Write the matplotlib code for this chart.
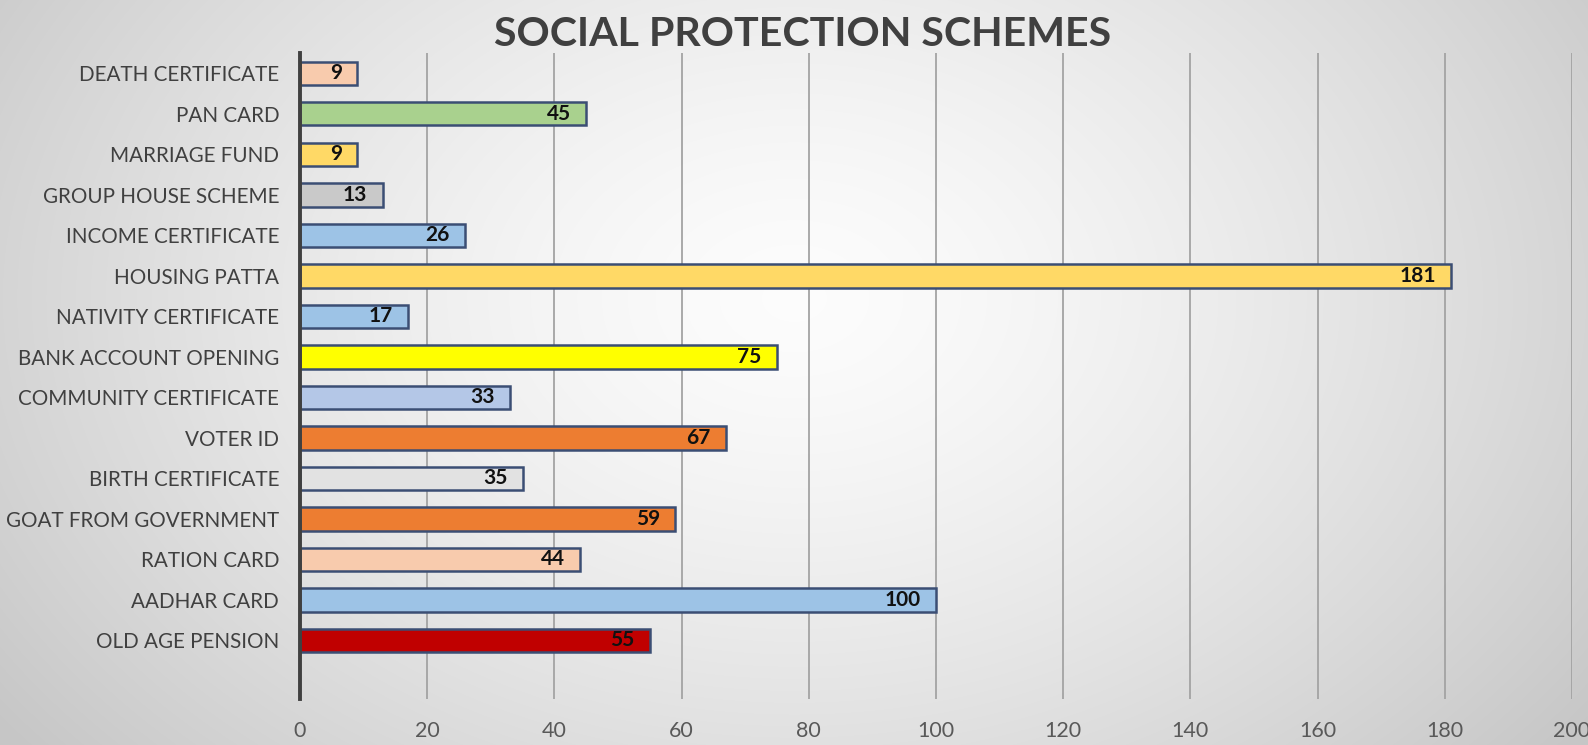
import numpy as np
import matplotlib
matplotlib.use("Agg")
import matplotlib.pyplot as plt

categories = ["OLD AGE PENSION", "AADHAR CARD", "RATION CARD", "GOAT FROM GOVERNMENT",
              "BIRTH CERTIFICATE", "VOTER ID", "COMMUNITY CERTIFICATE", "BANK ACCOUNT OPENING",
              "NATIVITY CERTIFICATE", "HOUSING PATTA", "INCOME CERTIFICATE", "GROUP HOUSE SCHEME",
              "MARRIAGE FUND", "PAN CARD", "DEATH CERTIFICATE"]
values = [55, 100, 44, 59, 35, 67, 33, 75, 17, 181, 26, 13, 9, 45, 9]
colors = ["#C00000", "#9DC3E6", "#F8CBAD", "#ED7D31", "#E2E2E2", "#ED7D31", "#B4C7E7",
          "#FFFF00", "#9DC3E6", "#FFD966", "#9DC3E6", "#C9C9C9", "#FFD966", "#A9D18E", "#F8CBAD"]
xticks = [0, 20, 40, 60, 80, 100, 120, 140, 160, 180, 200]

plt.rcParams['font.family'] = ['Lato', 'DejaVu Sans']

W, H = 1588, 745
fig = plt.figure(figsize=(W/100, H/100), dpi=100)

# radial gradient background
bg = fig.add_axes([0, 0, 1, 1], zorder=-10)
yy, xx = np.mgrid[0:H, 0:W]
cx, cy = W*0.5, H*0.4
r = np.sqrt(((xx-cx)/(W*0.62))**2 + ((yy-cy)/(H*0.95))**2)
r = np.clip(r, 0, 1)
val = 0.99 - 0.21*r**1.4
img = np.dstack([val, val, val])
bg.imshow(img, aspect='auto', extent=[0, 1, 0, 1])
bg.axis('off')

left = 300/W
right = 1572/W
bottom = 1 - 699/H
top = 1 - 53/H
ax = fig.add_axes([left, bottom, right-left, top-bottom])
ax.patch.set_alpha(0)

y = np.arange(len(categories))
ax.barh(y, values, height=0.58, color=colors, edgecolor="#3B4E74", linewidth=1.8, zorder=3)
for yi, v in zip(y, values):
    ax.text(v - 2.4, yi, str(v), ha='right', va='center', fontsize=15,
            fontweight='bold', color='#111111', zorder=4)

ax.set_xlim(0, 200)
ax.set_ylim(-1.45, 14.5)
ax.set_xticks(xticks)
ax.set_xticklabels([str(t) for t in xticks], fontsize=15.5, color='#595959')
ax.set_yticks(y)
ax.set_yticklabels(categories, fontsize=14.9, color='#404040')
ax.tick_params(axis='both', length=0)
ax.tick_params(axis='x', pad=16)
ax.tick_params(axis='y', pad=15)
ax.grid(axis='x', color='#A3A3A3', linewidth=1.3, zorder=1)
for s in ['top', 'right', 'bottom']:
    ax.spines[s].set_visible(False)
ax.spines['left'].set_color('#404040')
ax.spines['left'].set_linewidth(2.8)
ax.spines['left'].set_zorder(5)

fig.text(803/W, 1 - 35/H, "SOCIAL PROTECTION SCHEMES", ha='center', va='center',
         fontsize=29.6, fontweight='bold', color='#404040')

fig.savefig("out.png", dpi=100)
